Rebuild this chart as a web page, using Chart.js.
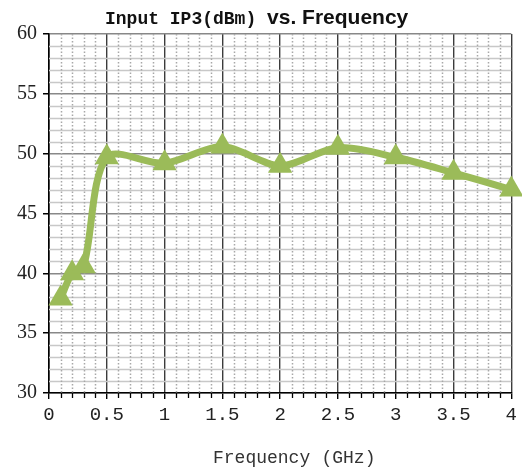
<!DOCTYPE html>
<html>
<head>
<meta charset="utf-8">
<script src="https://cdn.jsdelivr.net/npm/chart.js@4.4.1/dist/chart.umd.min.js"></script>
<style>
  html, body { margin: 0; padding: 0; background: #fff; }
  #wrap { position: relative; width: 522px; height: 472px; }
  #c { position: absolute; left: 0; top: 0; }
  #title { position: absolute; left: 105px; top: 5px; white-space: pre; line-height: 26px; color: #111; }
  #title .a { font: bold 18px "Liberation Mono", "Noto Sans CJK SC", monospace; }
  #title .b { font: bold 21px "Liberation Sans", Arial, sans-serif; }
  #xtitle { position: absolute; left: 213px; top: 448px; white-space: pre; line-height: 24px;
            font: 18px "Liberation Mono", monospace; color: #333; }
  #xtitle .l { display: inline-block; width: 22px; text-align: right; }
  #xtitle .r { display: inline-block; width: 16px; text-align: left; }
</style>
</head>
<body>
<div id="wrap">
  <canvas id="c" width="522" height="472"></canvas>
  <div id="title"><span class="a">Input IP3(dBm) </span><span class="b">vs. Frequency</span></div>
  <div id="xtitle">Frequency<span class="l">(</span>GHz<span class="r">)</span></div>
</div>
<script>
// ---- data ----
const frequencies = [0.1, 0.2, 0.3, 0.5, 1.0, 1.5, 2.0, 2.5, 3.0, 3.5, 4.0];
const inputIP3 = [37.9, 40.0, 40.6, 49.7, 49.2, 50.6, 49.0, 50.5, 49.7, 48.4, 47.0];
const xTickLabels = ['0', '0.5', '1', '1.5', '2', '2.5', '3', '3.5', '4'];
const yTickLabels = ['30', '35', '40', '45', '50', '55', '60'];

const points = frequencies.map((f, i) => ({ x: f, y: inputIP3[i] }));

const minorGrid = {
  id: 'minorGrid',
  beforeDatasetsDraw(chart) {
    const { ctx, chartArea: a, scales: { x, y } } = chart;
    ctx.save();
    ctx.strokeStyle = '#c8c8c8';
    ctx.lineWidth = 1.5;
    for (let v = 31; v < 60; v++) {
      if (v % 5 === 0) continue;
      const py = Math.round(y.getPixelForValue(v)) + 0.5;
      ctx.beginPath(); ctx.moveTo(a.left, py); ctx.lineTo(a.right, py); ctx.stroke();
    }
    ctx.strokeStyle = '#a8a8a8';
    ctx.lineWidth = 1.5;
    ctx.setLineDash([1.5, 2]);
    for (let i = 1; i < 40; i++) {
      if (i % 5 === 0) continue;
      const px = Math.round(x.getPixelForValue(i / 10)) + 0.5;
      ctx.beginPath(); ctx.moveTo(px, a.top); ctx.lineTo(px, a.bottom); ctx.stroke();
    }
    ctx.setLineDash([]);
    ctx.strokeStyle = '#000';
    ctx.lineWidth = 1.3;
    for (let i = 1; i < 40; i++) {
      if (i % 5 === 0) continue;
      const px = Math.round(x.getPixelForValue(i / 10)) + 0.5;
      ctx.beginPath(); ctx.moveTo(px, a.bottom); ctx.lineTo(px, a.bottom + 5); ctx.stroke();
    }
    ctx.restore();
  }
};

new Chart(document.getElementById('c'), {
  type: 'line',
  data: {
    datasets: [{
      data: points,
      borderColor: '#9BBB59',
      backgroundColor: '#9BBB59',
      borderWidth: 7,
      tension: 0.3,
      pointStyle: 'triangle',
      pointRadius: 14,
      pointHoverRadius: 14,
      pointBorderWidth: 0,
      pointBackgroundColor: '#9BBB59',
      fill: false,
      clip: false
    }]
  },
  options: {
    responsive: false,
    animation: false,
    events: [],
    layout: { autoPadding: false, padding: { top: 34, right: 9, left: 0, bottom: 0 } },
    plugins: { legend: { display: false }, title: { display: false }, tooltip: { enabled: false } },
    scales: {
      x: {
        type: 'linear',
        min: 0, max: 4,
        afterFit(s) { s.height = 79; },
        afterBuildTicks(s) { s.ticks = xTickLabels.map(t => ({ value: parseFloat(t) })); },
        ticks: {
          callback: (v) => xTickLabels.find(t => parseFloat(t) === v) ?? '',
          font: { family: '"Liberation Mono", monospace', size: 19 },
          color: '#222',
          padding: 5,
          maxRotation: 0,
          autoSkip: false
        },
        grid: { color: '#3c3c3c', lineWidth: 1.4, tickLength: 6, tickColor: '#000' },
        border: { color: '#000', width: 1.6 }
      },
      y: {
        min: 30, max: 60,
        afterFit(s) { s.width = 49; },
        afterBuildTicks(s) { s.ticks = yTickLabels.map(t => ({ value: parseFloat(t) })); },
        ticks: {
          callback: (v) => yTickLabels.find(t => parseFloat(t) === v) ?? '',
          font: { family: '"Liberation Serif", "Times New Roman", serif', size: 20 },
          color: '#222',
          padding: 6
        },
        grid: { color: '#888', lineWidth: 1.5, tickLength: 6, tickColor: '#000' },
        border: { color: '#000', width: 1.6 }
      }
    }
  },
  plugins: [minorGrid]
});
</script>
</body>
</html>
